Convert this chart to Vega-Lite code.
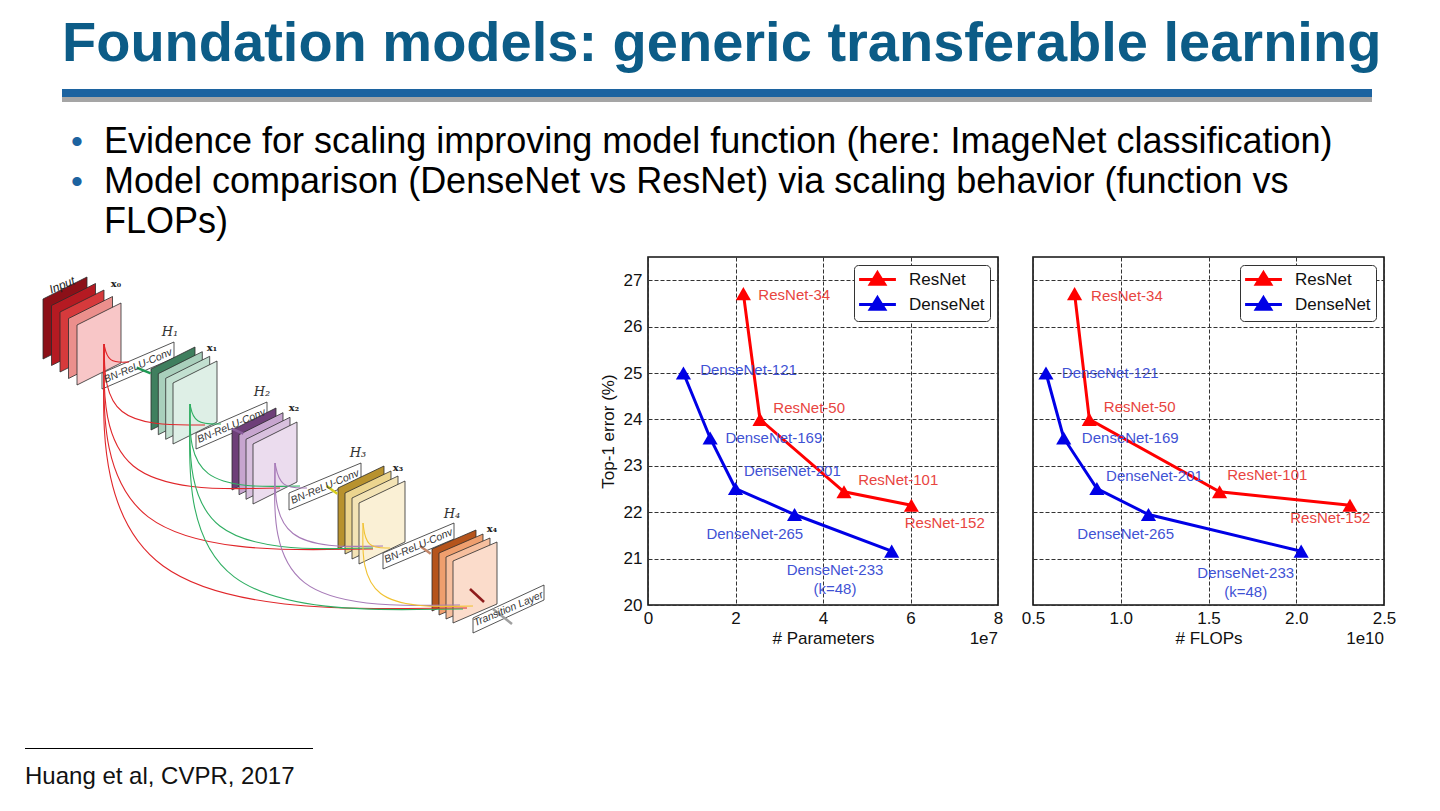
{
"$schema": "https://vega.github.io/schema/vega-lite/v6.json",
"background": "white",
"padding": {"left": 25, "top": 16, "right": 0, "bottom": 0},
"spacing": 0,
"config": {
  "view": {"stroke": null},
  "font": "Liberation Sans",
  "axis": {"labelFont": "Liberation Sans", "titleFont": "Liberation Sans", "labelFontSize": 17, "titleFontSize": 17, "titleFontWeight": "normal", "labelColor": "#111", "titleColor": "#111", "grid": true, "gridDash": [4, 2], "gridColor": "#333", "gridWidth": 1, "domain": false, "ticks": false, "labelFlush": false, "labelOverlap": false},
  "axisX": {"labelPadding": 5, "titlePadding": 4},
  "axisY": {"labelPadding": 6, "titlePadding": 6}
},
"datasets": {
  "bullets": [
    {"line": 1, "text": "Evidence for scaling improving model function (here: ImageNet classification)"},
    {"line": 2, "text": "Model comparison (DenseNet vs ResNet) via scaling behavior (function vs"},
    {"line": 3, "text": "FLOPs)"}
  ],
  "models": [
    {"model": "ResNet", "name": "ResNet-34", "params": 21800000, "flops": 7370000000, "err": 26.71},
    {"model": "ResNet", "name": "ResNet-50", "params": 25600000, "flops": 8210000000, "err": 24.0},
    {"model": "ResNet", "name": "ResNet-101", "params": 44800000, "flops": 15630000000, "err": 22.44},
    {"model": "ResNet", "name": "ResNet-152", "params": 60200000, "flops": 23060000000, "err": 22.15},
    {"model": "DenseNet", "name": "DenseNet-121", "params": 8100000, "flops": 5740000000, "err": 25.0},
    {"model": "DenseNet", "name": "DenseNet-169", "params": 14200000, "flops": 6750000000, "err": 23.6},
    {"model": "DenseNet", "name": "DenseNet-201", "params": 20000000, "flops": 8640000000, "err": 22.51},
    {"model": "DenseNet", "name": "DenseNet-265", "params": 33500000, "flops": 11580000000, "err": 21.95},
    {"model": "DenseNet", "name": "DenseNet-233", "params": 55700000, "flops": 20280000000, "err": 21.16}
  ],
  "labels": [
    {"chart": "p", "model": "ResNet", "text": "ResNet-34", "lx": 33420000, "ly": 26.68},
    {"chart": "p", "model": "ResNet", "text": "ResNet-50", "lx": 36840000, "ly": 24.24},
    {"chart": "p", "model": "ResNet", "text": "ResNet-101", "lx": 57190000, "ly": 22.7},
    {"chart": "p", "model": "ResNet", "text": "ResNet-152", "lx": 67830000, "ly": 21.77},
    {"chart": "p", "model": "DenseNet", "text": "DenseNet-121", "lx": 22970000, "ly": 25.06},
    {"chart": "p", "model": "DenseNet", "text": "DenseNet-169", "lx": 28780000, "ly": 23.6},
    {"chart": "p", "model": "DenseNet", "text": "DenseNet-201", "lx": 33000000, "ly": 22.88},
    {"chart": "p", "model": "DenseNet", "text": "DenseNet-265", "lx": 24410000, "ly": 21.53},
    {"chart": "p", "model": "DenseNet", "text": "DenseNet-233", "lx": 42740000, "ly": 20.75},
    {"chart": "p", "model": "DenseNet", "text": "(k=48)", "lx": 42740000, "ly": 20.35},
    {"chart": "f", "model": "ResNet", "text": "ResNet-34", "lx": 10350000000, "ly": 26.66},
    {"chart": "f", "model": "ResNet", "text": "ResNet-50", "lx": 11080000000, "ly": 24.27},
    {"chart": "f", "model": "ResNet", "text": "ResNet-101", "lx": 18350000000, "ly": 22.81},
    {"chart": "f", "model": "ResNet", "text": "ResNet-152", "lx": 21940000000, "ly": 21.88},
    {"chart": "f", "model": "DenseNet", "text": "DenseNet-121", "lx": 9400000000, "ly": 25.01},
    {"chart": "f", "model": "DenseNet", "text": "DenseNet-169", "lx": 10540000000, "ly": 23.6},
    {"chart": "f", "model": "DenseNet", "text": "DenseNet-201", "lx": 11920000000, "ly": 22.78},
    {"chart": "f", "model": "DenseNet", "text": "DenseNet-265", "lx": 10280000000, "ly": 21.53},
    {"chart": "f", "model": "DenseNet", "text": "DenseNet-233", "lx": 17120000000, "ly": 20.69},
    {"chart": "f", "model": "DenseNet", "text": "(k=48)", "lx": 17120000000, "ly": 20.29}
  ],
  "planes": [
    {"pid": "a01", "shade": "r1", "x": 43, "yt": 298, "yb": 358}, {"pid": "a01", "shade": "r1", "x": 87, "yt": 276, "yb": 336},
    {"pid": "a02", "shade": "r2", "x": 51.5, "yt": 304.5, "yb": 364.5}, {"pid": "a02", "shade": "r2", "x": 95.5, "yt": 282.5, "yb": 342.5},
    {"pid": "a03", "shade": "r3", "x": 60, "yt": 311, "yb": 371}, {"pid": "a03", "shade": "r3", "x": 104, "yt": 289, "yb": 349},
    {"pid": "a04", "shade": "r4", "x": 68.5, "yt": 317.5, "yb": 377.5}, {"pid": "a04", "shade": "r4", "x": 112.5, "yt": 295.5, "yb": 355.5},
    {"pid": "a05", "shade": "r5", "x": 77, "yt": 324, "yb": 384}, {"pid": "a05", "shade": "r5", "x": 121, "yt": 302, "yb": 362},
    {"pid": "a06", "shade": "box", "x": 102, "yt": 372, "yb": 388}, {"pid": "a06", "shade": "box", "x": 174, "yt": 341, "yb": 357},
    {"pid": "a07", "shade": "g1", "x": 151, "yt": 368, "yb": 429}, {"pid": "a07", "shade": "g1", "x": 195, "yt": 346, "yb": 407},
    {"pid": "a08", "shade": "g2", "x": 158.3, "yt": 372.7, "yb": 433.7}, {"pid": "a08", "shade": "g2", "x": 202.3, "yt": 350.7, "yb": 411.7},
    {"pid": "a09", "shade": "g3", "x": 165.7, "yt": 377.3, "yb": 438.3}, {"pid": "a09", "shade": "g3", "x": 209.7, "yt": 355.3, "yb": 416.3},
    {"pid": "a10", "shade": "g4", "x": 173, "yt": 382, "yb": 443}, {"pid": "a10", "shade": "g4", "x": 217, "yt": 360, "yb": 421},
    {"pid": "a11", "shade": "box", "x": 196, "yt": 432, "yb": 448}, {"pid": "a11", "shade": "box", "x": 267, "yt": 401, "yb": 417},
    {"pid": "a12", "shade": "p1", "x": 232, "yt": 429, "yb": 489}, {"pid": "a12", "shade": "p1", "x": 276, "yt": 407, "yb": 467},
    {"pid": "a13", "shade": "p2", "x": 239, "yt": 433.7, "yb": 493.7}, {"pid": "a13", "shade": "p2", "x": 283, "yt": 411.7, "yb": 471.7},
    {"pid": "a14", "shade": "p3", "x": 246, "yt": 438.3, "yb": 498.3}, {"pid": "a14", "shade": "p3", "x": 290, "yt": 416.3, "yb": 476.3},
    {"pid": "a15", "shade": "p4", "x": 253, "yt": 443, "yb": 503}, {"pid": "a15", "shade": "p4", "x": 297, "yt": 421, "yb": 481},
    {"pid": "a16", "shade": "box", "x": 289, "yt": 492, "yb": 509}, {"pid": "a16", "shade": "box", "x": 361, "yt": 462, "yb": 479},
    {"pid": "a17", "shade": "y1", "x": 338, "yt": 487, "yb": 548}, {"pid": "a17", "shade": "y1", "x": 384, "yt": 465, "yb": 526},
    {"pid": "a18", "shade": "y2", "x": 345, "yt": 492, "yb": 553}, {"pid": "a18", "shade": "y2", "x": 391, "yt": 470, "yb": 531},
    {"pid": "a19", "shade": "y3", "x": 352, "yt": 497, "yb": 558}, {"pid": "a19", "shade": "y3", "x": 398, "yt": 475, "yb": 536},
    {"pid": "a20", "shade": "y4", "x": 359, "yt": 502, "yb": 563}, {"pid": "a20", "shade": "y4", "x": 405, "yt": 480, "yb": 541},
    {"pid": "a21", "shade": "box", "x": 383, "yt": 552, "yb": 568}, {"pid": "a21", "shade": "box", "x": 454, "yt": 522, "yb": 538},
    {"pid": "a22", "shade": "o1", "x": 432, "yt": 548, "yb": 610}, {"pid": "a22", "shade": "o1", "x": 476, "yt": 529, "yb": 591},
    {"pid": "a23", "shade": "o2", "x": 439, "yt": 552, "yb": 614}, {"pid": "a23", "shade": "o2", "x": 483, "yt": 533, "yb": 595},
    {"pid": "a24", "shade": "o3", "x": 446, "yt": 556, "yb": 618}, {"pid": "a24", "shade": "o3", "x": 490, "yt": 537, "yb": 599},
    {"pid": "a25", "shade": "o4", "x": 453, "yt": 560, "yb": 622}, {"pid": "a25", "shade": "o4", "x": 497, "yt": 541, "yb": 603},
    {"pid": "a26", "shade": "box", "x": 473, "yt": 617, "yb": 632}, {"pid": "a26", "shade": "box", "x": 544, "yt": 584, "yb": 599}
  ],
  "arcs": [
    {"id": "R1", "k": 1, "x": 104, "y": 343, "col": "red"}, {"id": "R1", "k": 2, "x": 108, "y": 362, "col": "red"}, {"id": "R1", "k": 3, "x": 129, "y": 361, "col": "red"},
    {"id": "R2", "k": 1, "x": 104, "y": 343, "col": "red"}, {"id": "R2", "k": 2, "x": 106, "y": 424, "col": "red"}, {"id": "R2", "k": 3, "x": 205, "y": 424, "col": "red"},
    {"id": "R3", "k": 1, "x": 104, "y": 343, "col": "red"}, {"id": "R3", "k": 2, "x": 104, "y": 490, "col": "red"}, {"id": "R3", "k": 3, "x": 280, "y": 487, "col": "red"},
    {"id": "R4", "k": 1, "x": 104, "y": 343, "col": "red"}, {"id": "R4", "k": 2, "x": 103, "y": 551, "col": "red"}, {"id": "R4", "k": 3, "x": 373, "y": 548, "col": "red"},
    {"id": "R5", "k": 1, "x": 104, "y": 343, "col": "red"}, {"id": "R5", "k": 2, "x": 102, "y": 610, "col": "red"}, {"id": "R5", "k": 3, "x": 467, "y": 607, "col": "red"},
    {"id": "G1", "k": 1, "x": 190, "y": 403, "col": "green"}, {"id": "G1", "k": 2, "x": 194, "y": 423, "col": "green"}, {"id": "G1", "k": 3, "x": 221, "y": 423, "col": "green"},
    {"id": "G2", "k": 1, "x": 190, "y": 403, "col": "green"}, {"id": "G2", "k": 2, "x": 190, "y": 487, "col": "green"}, {"id": "G2", "k": 3, "x": 300, "y": 485, "col": "green"},
    {"id": "G3", "k": 1, "x": 190, "y": 403, "col": "green"}, {"id": "G3", "k": 2, "x": 189, "y": 550, "col": "green"}, {"id": "G3", "k": 3, "x": 373, "y": 547, "col": "green"},
    {"id": "G4", "k": 1, "x": 190, "y": 403, "col": "green"}, {"id": "G4", "k": 2, "x": 188, "y": 611, "col": "green"}, {"id": "G4", "k": 3, "x": 463, "y": 608, "col": "green"},
    {"id": "P1", "k": 1, "x": 275, "y": 462, "col": "purple"}, {"id": "P1", "k": 2, "x": 280, "y": 487, "col": "purple"}, {"id": "P1", "k": 3, "x": 307, "y": 487, "col": "purple"},
    {"id": "P2", "k": 1, "x": 275, "y": 462, "col": "purple"}, {"id": "P2", "k": 2, "x": 275, "y": 547, "col": "purple"}, {"id": "P2", "k": 3, "x": 383, "y": 545, "col": "purple"},
    {"id": "P3", "k": 1, "x": 275, "y": 462, "col": "purple"}, {"id": "P3", "k": 2, "x": 273, "y": 606, "col": "purple"}, {"id": "P3", "k": 3, "x": 460, "y": 604, "col": "purple"},
    {"id": "Y1", "k": 1, "x": 363, "y": 522, "col": "yellow"}, {"id": "Y1", "k": 2, "x": 366, "y": 547, "col": "yellow"}, {"id": "Y1", "k": 3, "x": 390, "y": 547, "col": "yellow"},
    {"id": "Y2", "k": 1, "x": 363, "y": 522, "col": "yellow"}, {"id": "Y2", "k": 2, "x": 362, "y": 607, "col": "yellow"}, {"id": "Y2", "k": 3, "x": 473, "y": 605, "col": "yellow"}
  ],
  "links": [
    {"id": "L1", "k": 1, "x": 136.7, "y": 366.7, "col": "green2"}, {"id": "L1", "k": 2, "x": 150.7, "y": 372.3, "col": "green2"},
    {"id": "L2", "k": 1, "x": 231.7, "y": 427.7, "col": "purple2"}, {"id": "L2", "k": 2, "x": 243.3, "y": 432.7, "col": "purple2"},
    {"id": "L3", "k": 1, "x": 326.7, "y": 485, "col": "yellow2"}, {"id": "L3", "k": 2, "x": 337.3, "y": 492.7, "col": "yellow2"},
    {"id": "L4", "k": 1, "x": 420, "y": 545, "col": "orange2"}, {"id": "L4", "k": 2, "x": 430.7, "y": 552.7, "col": "orange2"},
    {"id": "L5", "k": 1, "x": 470, "y": 588, "col": "dred"}, {"id": "L5", "k": 2, "x": 484, "y": 601, "col": "dred"},
    {"id": "L6", "k": 1, "x": 493, "y": 608, "col": "gray"}, {"id": "L6", "k": 2, "x": 512, "y": 623, "col": "gray"}
  ],
  "diagtext": [
    {"t": "Input", "x": 62, "y": 284, "kind": "in"},
    {"t": "x₀", "x": 116, "y": 283, "kind": "x"},
    {"t": "H₁", "x": 170, "y": 331, "kind": "h"},
    {"t": "x₁", "x": 212, "y": 347, "kind": "x"},
    {"t": "H₂", "x": 262, "y": 391, "kind": "h"},
    {"t": "x₂", "x": 294, "y": 407, "kind": "x"},
    {"t": "H₃", "x": 358, "y": 452, "kind": "h"},
    {"t": "x₃", "x": 398, "y": 467, "kind": "x"},
    {"t": "H₄", "x": 452, "y": 513, "kind": "h"},
    {"t": "x₄", "x": 492, "y": 528, "kind": "x"},
    {"t": "BN-ReLU-Conv", "x": 138, "y": 365, "kind": "box"},
    {"t": "BN-ReLU-Conv", "x": 231.5, "y": 425, "kind": "box"},
    {"t": "BN-ReLU-Conv", "x": 325, "y": 486, "kind": "box"},
    {"t": "BN-ReLU-Conv", "x": 418.5, "y": 545, "kind": "box"},
    {"t": "Transition Layer", "x": 508.5, "y": 608, "kind": "box"}
  ]
},
"vconcat": [
  {
    "bounds": "flush", "spacing": 0,
    "hconcat": [
      {"width": 37, "height": 1, "data": {"values": []}, "mark": "point", "encoding": {}},
      {
        "bounds": "flush", "spacing": 0,
        "vconcat": [
          {
            "width": 1310, "height": 8,
            "view": {"fill": "#1c63a0", "stroke": null},
            "title": {"text": "Foundation models: generic transferable learning", "anchor": "start", "orient": "top", "font": "Liberation Sans", "fontSize": 56, "fontWeight": "bold", "color": "#0c5c87", "baseline": "alphabetic", "offset": -28},
            "data": {"values": []}, "mark": "point", "encoding": {}
          },
          {
            "width": 1310, "height": 5,
            "view": {"fill": "#a5a5a5", "stroke": null},
            "data": {"values": []}, "mark": "point", "encoding": {}
          },
          {
            "width": 1310, "height": 154,
            "data": {"name": "bullets"},
            "layer": [
              {
                "transform": [{"filter": "datum.line < 3"}],
                "mark": {"type": "text", "align": "center", "baseline": "alphabetic", "dx": 15, "dy": 0, "fontSize": 34, "color": "#1c63a0", "font": "Liberation Sans"},
                "encoding": {
                  "x": {"datum": 0, "type": "quantitative", "scale": {"domain": [0, 1], "nice": false}, "axis": null},
                  "y": {"field": "line", "type": "quantitative", "scale": {"domain": [-0.275, 3.575], "reverse": true, "nice": false, "zero": false}, "axis": null},
                  "text": {"value": "•"}
                }
              },
              {
                "mark": {"type": "text", "align": "left", "baseline": "alphabetic", "dx": 42, "fontSize": 36, "color": "#000", "font": "Liberation Sans"},
                "encoding": {
                  "x": {"datum": 0, "type": "quantitative"},
                  "y": {"field": "line", "type": "quantitative"},
                  "text": {"field": "text"}
                }
              }
            ]
          }
        ]
      }
    ]
  },
  {
    "bounds": "flush", "spacing": 0,
    "hconcat": [
      {
        "width": 623, "height": 400,
        "layer": [
          {
            "data": {"name": "planes"},
            "mark": {"type": "area", "orient": "vertical", "stroke": "#2b2b2b", "strokeWidth": 0.8, "opacity": 1},
            "encoding": {
              "x": {"field": "x", "type": "quantitative", "scale": {"domain": [25, 648], "nice": false, "zero": false}, "axis": null},
              "y": {"field": "yt", "type": "quantitative", "scale": {"domain": [256, 656], "nice": false, "zero": false, "reverse": true}, "axis": null},
              "y2": {"field": "yb"},
              "detail": {"field": "pid"},
              "fill": {"field": "shade", "type": "nominal", "legend": null, "scale": {
                "domain": ["r1", "r2", "r3", "r4", "r5", "g1", "g2", "g3", "g4", "p1", "p2", "p3", "p4", "y1", "y2", "y3", "y4", "o1", "o2", "o3", "o4", "box"],
                "range": ["#8c1018", "#b51a22", "#d63a3c", "#eb8f8c", "#f8c6c7", "#3f7f5e", "#a9d0bc", "#c2e0d0", "#deefe6", "#6e3f78", "#c7a5cf", "#d8c0de", "#ebdcee", "#b8922e", "#ecd58f", "#f3e3b5", "#faf0d5", "#b5541c", "#ef9f6e", "#f6bf9e", "#fbdccb", "#ffffff"]}}
            }
          },
          {
            "data": {"name": "arcs"},
            "mark": {"type": "line", "interpolate": "basis", "strokeWidth": 1.1},
            "encoding": {
              "x": {"field": "x", "type": "quantitative"},
              "y": {"field": "y", "type": "quantitative"},
              "detail": {"field": "id"},
              "order": {"field": "k"},
              "stroke": {"field": "col", "type": "nominal", "legend": null, "scale": {
                "domain": ["red", "green", "purple", "yellow", "green2", "purple2", "yellow2", "orange2", "dred", "gray"],
                "range": ["#e0262a", "#2fae62", "#a77bb8", "#f1c232", "#1f9a55", "#8a5c9b", "#d9cf1e", "#c4876a", "#8e1b1b", "#a0a0a0"]}}
            }
          },
          {
            "data": {"name": "links"},
            "mark": {"type": "line", "strokeWidth": 2.5},
            "encoding": {
              "x": {"field": "x", "type": "quantitative"},
              "y": {"field": "y", "type": "quantitative"},
              "detail": {"field": "id"},
              "order": {"field": "k"},
              "stroke": {"field": "col", "type": "nominal", "legend": null}
            }
          },
          {
            "data": {"name": "diagtext"},
            "transform": [{"filter": "datum.kind === 'in'"}],
            "mark": {"type": "text", "font": "Liberation Sans", "fontStyle": "italic", "fontSize": 12, "angle": -22, "color": "#222"},
            "encoding": {"x": {"field": "x", "type": "quantitative"}, "y": {"field": "y", "type": "quantitative"}, "text": {"field": "t"}}
          },
          {
            "data": {"name": "diagtext"},
            "transform": [{"filter": "datum.kind === 'x'"}],
            "mark": {"type": "text", "font": "DejaVu Serif", "fontWeight": "bold", "fontSize": 10, "color": "#222"},
            "encoding": {"x": {"field": "x", "type": "quantitative"}, "y": {"field": "y", "type": "quantitative"}, "text": {"field": "t"}}
          },
          {
            "data": {"name": "diagtext"},
            "transform": [{"filter": "datum.kind === 'h'"}],
            "mark": {"type": "text", "font": "DejaVu Serif", "fontStyle": "italic", "fontSize": 13, "color": "#333"},
            "encoding": {"x": {"field": "x", "type": "quantitative"}, "y": {"field": "y", "type": "quantitative"}, "text": {"field": "t"}}
          },
          {
            "data": {"name": "diagtext"},
            "transform": [{"filter": "datum.kind === 'box'"}],
            "mark": {"type": "text", "font": "Liberation Sans", "fontStyle": "italic", "fontSize": 10.5, "angle": -23, "color": "#333"},
            "encoding": {"x": {"field": "x", "type": "quantitative"}, "y": {"field": "y", "type": "quantitative"}, "text": {"field": "t"}}
          }
        ]
      },
      {
        "bounds": "flush", "spacing": 35,
        "resolve": {"scale": {"color": "independent", "fill": "independent"}, "legend": {"color": "independent"}},
        "hconcat": [
          {
            "width": 350, "height": 348,
            "view": {"stroke": "#111", "strokeWidth": 1.6},
            "layer": [
              {
                "data": {"name": "models"},
                "mark": {"type": "line", "strokeWidth": 3},
                "encoding": {
                  "x": {"field": "params", "type": "quantitative", "scale": {"domain": [0, 80000000], "nice": false}, "axis": {"values": [0, 20000000, 40000000, 60000000, 80000000], "labelExpr": "datum.value / 10000000", "title": "# Parameters"}},
                  "y": {"field": "err", "type": "quantitative", "scale": {"domain": [20, 27.5], "nice": false, "zero": false}, "axis": {"values": [20, 21, 22, 23, 24, 25, 26, 27], "title": "Top-1 error (%)"}},
                  "color": {"field": "model", "type": "nominal", "scale": {"domain": ["ResNet", "DenseNet"], "range": ["#ff0000", "#0000e6"]},
                    "legend": {"title": null, "orient": "top-right", "offset": 8, "symbolType": "M-2.3,0H2.3M0,-0.85L0.9,0.6L-0.9,0.6Z", "symbolSize": 256, "symbolOffset": 9, "symbolStrokeWidth": 3, "labelFontSize": 17, "labelFont": "Liberation Sans", "labelColor": "#111", "padding": 5, "rowPadding": 0, "labelOffset": 22, "strokeColor": "#333", "fillColor": "white", "cornerRadius": 4,
                      "encode": {"symbols": {"update": {"fill": [{"test": "datum.value === 'ResNet'", "value": "#ff0000"}, {"value": "#0000e6"}], "stroke": [{"test": "datum.value === 'ResNet'", "value": "#ff0000"}, {"value": "#0000e6"}], "strokeWidth": {"value": 3}, "opacity": {"value": 1}}}}}}
                }
              },
              {
                "data": {"name": "models"},
                "mark": {"type": "point", "shape": "triangle-up", "filled": true, "size": 230, "opacity": 1},
                "encoding": {
                  "x": {"field": "params", "type": "quantitative"},
                  "y": {"field": "err", "type": "quantitative"},
                  "color": {"field": "model", "type": "nominal"}
                }
              },
              {
                "data": {"name": "labels"},
                "transform": [{"filter": "datum.chart === 'p'"}],
                "mark": {"type": "text", "fontSize": 15, "align": "center", "baseline": "middle", "font": "Liberation Sans"},
                "encoding": {
                  "x": {"field": "lx", "type": "quantitative"},
                  "y": {"field": "ly", "type": "quantitative"},
                  "text": {"field": "text"},
                  "fill": {"field": "model", "type": "nominal", "scale": {"domain": ["ResNet", "DenseNet"], "range": ["#e8453f", "#3f52d4"]}, "legend": null}
                }
              },
              {
                "data": {"values": [{}]},
                "mark": {"type": "text", "align": "right", "baseline": "middle", "dy": 34, "fontSize": 17, "color": "#111", "font": "Liberation Sans"},
                "encoding": {"x": {"datum": 80000000, "type": "quantitative"}, "y": {"datum": 20, "type": "quantitative"}, "text": {"value": "1e7"}}
              }
            ]
          },
          {
            "width": 351, "height": 348,
            "view": {"stroke": "#111", "strokeWidth": 1.6},
            "layer": [
              {
                "data": {"name": "models"},
                "mark": {"type": "line", "strokeWidth": 3},
                "encoding": {
                  "x": {"field": "flops", "type": "quantitative", "scale": {"domain": [5000000000, 25000000000], "nice": false, "zero": false}, "axis": {"values": [5000000000, 10000000000, 15000000000, 20000000000, 25000000000], "labelExpr": "format(datum.value / 10000000000, '.1f')", "title": "# FLOPs"}},
                  "y": {"field": "err", "type": "quantitative", "scale": {"domain": [20, 27.5], "nice": false, "zero": false}, "axis": {"values": [20, 21, 22, 23, 24, 25, 26, 27], "labels": false, "title": null}},
                  "color": {"field": "model", "type": "nominal", "scale": {"domain": ["ResNet", "DenseNet"], "range": ["#ff0000", "#0000e6"]},
                    "legend": {"title": null, "orient": "top-right", "offset": 8, "symbolType": "M-2.3,0H2.3M0,-0.85L0.9,0.6L-0.9,0.6Z", "symbolSize": 256, "symbolOffset": 9, "symbolStrokeWidth": 3, "labelFontSize": 17, "labelFont": "Liberation Sans", "labelColor": "#111", "padding": 5, "rowPadding": 0, "labelOffset": 22, "strokeColor": "#333", "fillColor": "white", "cornerRadius": 4,
                      "encode": {"symbols": {"update": {"fill": [{"test": "datum.value === 'ResNet'", "value": "#ff0000"}, {"value": "#0000e6"}], "stroke": [{"test": "datum.value === 'ResNet'", "value": "#ff0000"}, {"value": "#0000e6"}], "strokeWidth": {"value": 3}, "opacity": {"value": 1}}}}}}
                }
              },
              {
                "data": {"name": "models"},
                "mark": {"type": "point", "shape": "triangle-up", "filled": true, "size": 230, "opacity": 1},
                "encoding": {
                  "x": {"field": "flops", "type": "quantitative"},
                  "y": {"field": "err", "type": "quantitative"},
                  "color": {"field": "model", "type": "nominal"}
                }
              },
              {
                "data": {"name": "labels"},
                "transform": [{"filter": "datum.chart === 'f'"}],
                "mark": {"type": "text", "fontSize": 15, "align": "center", "baseline": "middle", "font": "Liberation Sans"},
                "encoding": {
                  "x": {"field": "lx", "type": "quantitative"},
                  "y": {"field": "ly", "type": "quantitative"},
                  "text": {"field": "text"},
                  "fill": {"field": "model", "type": "nominal", "scale": {"domain": ["ResNet", "DenseNet"], "range": ["#e8453f", "#3f52d4"]}, "legend": null}
                }
              },
              {
                "data": {"values": [{}]},
                "mark": {"type": "text", "align": "right", "baseline": "middle", "dy": 34, "fontSize": 17, "color": "#111", "font": "Liberation Sans"},
                "encoding": {"x": {"datum": 25000000000, "type": "quantitative"}, "y": {"datum": 20, "type": "quantitative"}, "text": {"value": "1e10"}}
              }
            ]
          }
        ]
      }
    ]
  },
  {"width": 1, "height": 91, "data": {"values": []}, "mark": "point", "encoding": {}},
  {
    "width": 288, "height": 1,
    "view": {"fill": "#000", "stroke": null},
    "title": {"text": "Huang et al, CVPR, 2017", "orient": "bottom", "anchor": "start", "font": "Liberation Sans", "fontSize": 24, "fontWeight": "normal", "color": "#111", "baseline": "alphabetic", "offset": 35},
    "data": {"values": []}, "mark": "point", "encoding": {}
  }
]
}
